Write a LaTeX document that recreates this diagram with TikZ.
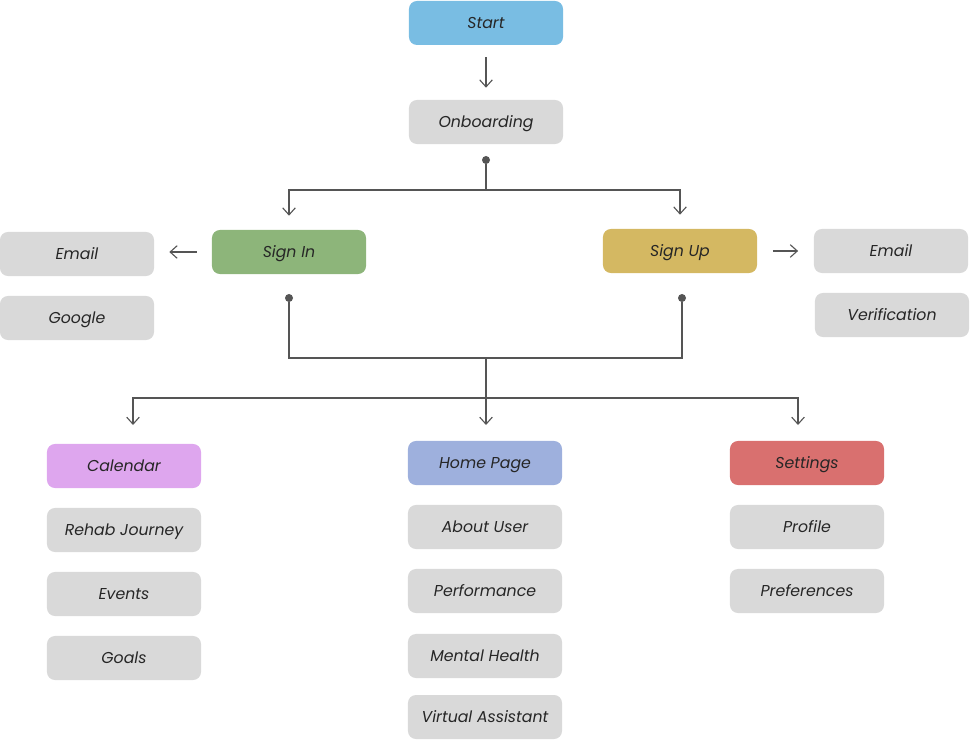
\documentclass[tikz,border=0pt]{standalone}
\usepackage{fontspec}
\setmainfont{Poppins}
\usetikzlibrary{arrows.meta}

\definecolor{boxgray}{HTML}{D9D9D9}
\definecolor{startblue}{HTML}{79BDE3}
\definecolor{signgreen}{HTML}{8DB57A}
\definecolor{signgold}{HTML}{D4B862}
\definecolor{calpurple}{HTML}{DEA6EE}
\definecolor{homeblue}{HTML}{9EB0DD}
\definecolor{setred}{HTML}{D9706F}
\definecolor{linegray}{HTML}{555555}

\tikzset{
  box/.style={rectangle,rounded corners=0.2cm,fill=boxgray,minimum width=3.85cm,
    minimum height=1.1cm,inner sep=0pt,text height=0.9em,text depth=0.08em,
    font=\fontsize{11.2}{13}\selectfont\itshape,text=black!85},
  conn/.style={linegray,line width=0.8pt},
  arr/.style={conn,-{Straight Barb[length=5pt,width=9pt]}},
  gap/.style={shorten <=#1,shorten >=#1},
  dot/.style={circle,fill=linegray,inner sep=0pt,minimum size=0.2cm}
}

\begin{document}
\begin{tikzpicture}[x=0.025cm,y=-0.025cm]
        \useasboundingbox (0,0) rectangle (970,740);

        % top
        \node[box,fill=startblue] (start) at (486,23) {Start};
        \node[box] (onboard) at (486,122) {Onboarding};
        \draw[arr,gap=0.3cm] (start) -- (onboard);

        % sign in / sign up
        \node[box,fill=signgreen] (signin) at (289,252) {Sign In};
        \node[box,fill=signgold] (signup) at (680,251) {Sign Up};
        \node[box] (inemail) at (77,254) {Email};
        \node[box] (google) at (77,318) {Google};
        \node[box] (upemail) at (891,251) {Email};
        \node[box] (verif) at (892,315) {Verification};

        \node[dot] (onbdot) at (486,160) {};
        \coordinate (split) at (486,190);
        \draw[conn] (onbdot) -- (split);
        \draw[arr,shorten >=0.35cm] (split) -| (signin.north);
        \draw[arr,shorten >=0.35cm] (split) -| (signup.north);

        \draw[arr,gap=0.375cm] (signin.west) -- (signin.west -| inemail.east);
        \draw[arr,gap=0.39cm] (signup.east) -- (upemail.west);

        % main sections
        \node[box,fill=calpurple] (calendar) at (124,466) {Calendar};
        \node[box] (rehab) at (124,530) {Rehab Journey};
        \node[box] (events) at (124,594) {Events};
        \node[box] (goals) at (124,658) {Goals};

        \node[box,fill=homeblue] (home) at (485,463) {Home Page};
        \node[box] (about) at (485,527) {About User};
        \node[box] (perf) at (485,591) {Performance};
        \node[box] (mental) at (485,656) {Mental Health};
        \node[box] (virtual) at (485,717) {Virtual Assistant};

        \node[box,fill=setred] (settings) at (807,463) {Settings};
        \node[box] (profile) at (807,527) {Profile};
        \node[box] (prefs) at (807,591) {Preferences};

        \node[dot] (indot) at (289,298) {};
        \node[dot] (updot) at (682,298) {};
        \coordinate (join) at (486,358);
        \coordinate (fan) at (486,398);
        \draw[conn] (indot) |- (join) -| (updot);
        \draw[conn] (join) -- (fan);
        \draw[arr] (fan) -| (133,425);
        \draw[arr] (fan) -- (486,425);
        \draw[arr] (fan) -| (798,425);
    \end{tikzpicture}
\end{document}
